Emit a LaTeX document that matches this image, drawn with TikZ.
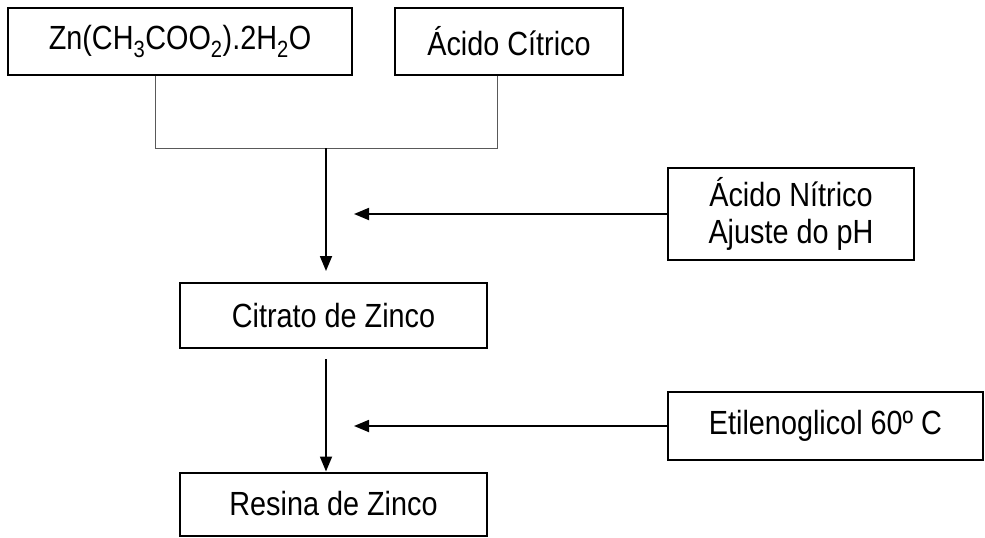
\documentclass[tikz,border=0pt]{standalone}
\usepackage{fontspec}
\setmainfont{Liberation Sans}[FakeStretch=0.86]
\usetikzlibrary{arrows.meta}

\begin{document}
\begin{tikzpicture}[->,>={Triangle[length=15pt,width=12pt]},auto,
  line width=1.8pt,node distance=188.5pt,
  main node/.style={rectangle,draw,line width=2pt,inner sep=0pt,
    font=\fontsize{33.5}{37}\selectfont,align=center},
  join line/.style={-,line width=1pt,draw=black!65}]

  \useasboundingbox (0pt,0pt) rectangle (985pt,-538pt);

  \node[main node,minimum width=344pt,minimum height=67pt] (ZN) at (180pt,-41.5pt)
    {Zn(CH\textsubscript{3}COO\textsubscript{2}).2H\textsubscript{2}O};
  \node[main node,minimum width=228pt,minimum height=67pt] (ACID)
    [node distance=329pt, right of=ZN] {Ácido Cítrico};
  \node[main node,minimum width=307pt,minimum height=65pt] (CITRATO) at (333.5pt,-315.5pt)
    {Citrato de Zinco};
  \node[main node,minimum width=307pt,minimum height=63pt] (RESINA)
    [below of=CITRATO] {Resina de Zinco};
  \node[main node,minimum width=246pt,minimum height=92pt] (NITRIC) at (791pt,-214pt)
    {Ácido Nítrico\\Ajuste do pH};
  \node[main node,minimum width=315pt,minimum height=68pt] (ETIL) at (825.5pt,-426pt)
    {Etilenoglicol 60º C};

  \coordinate (JOINL) at (155pt,-148pt);
  \coordinate (JOINR) at (497pt,-148pt);
  \coordinate (JOIN) at (326pt,-148pt);

  \draw[join line] (ZN.south -| JOINL) -- (JOINL) -- (JOINR) -- (ACID.south -| JOINR);
  \path
    (JOIN) edge[shorten >=11pt] (CITRATO.north -| JOIN)
    (NITRIC.west) edge[shorten >=28pt] (JOIN |- NITRIC.west)
    (CITRATO.south -| JOIN) edge[shorten <=10pt] (RESINA.north -| JOIN)
    (ETIL.west) edge[shorten >=28pt] (JOIN |- ETIL.west)
    ;
\end{tikzpicture}
\end{document}
